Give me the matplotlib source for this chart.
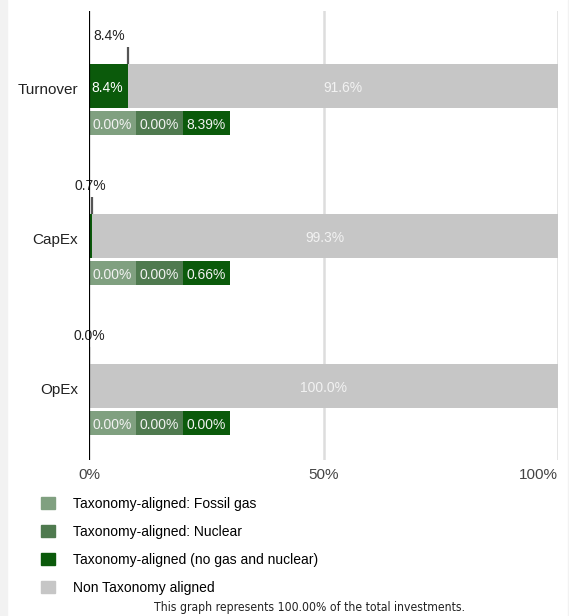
import matplotlib.pyplot as plt
from matplotlib.patches import Patch, Rectangle

plt.rcParams['font.family'] = ['Liberation Sans', 'DejaVu Sans']

# data
categories = ["Turnover", "CapEx", "OpEx"]
aligned_total = [8.4, 0.7, 0.0]
non_aligned = [91.6, 99.3, 100.0]
fossil_gas = [0.00, 0.00, 0.00]
nuclear = [0.00, 0.00, 0.00]
no_gas_nuclear = [8.39, 0.66, 0.00]

legend_labels = ["Taxonomy-aligned: Fossil gas", "Taxonomy-aligned: Nuclear",
                 "Taxonomy-aligned (no gas and nuclear)", "Non Taxonomy aligned"]
footer = "This graph represents 100.00% of the total investments."

C_GAS = "#80a080"
C_NUC = "#4f7a4f"
C_GREEN = "#0b5a0b"
C_NON = "#c6c6c6"

W, H = 569, 616
fig = plt.figure(figsize=(W / 100, H / 100), dpi=100)
fig.patch.set_facecolor("white")
fig.add_artist(Rectangle((0, 0), 7 / W, 1, transform=fig.transFigure,
                         color="#f2f2f2", zorder=0))
fig.add_artist(Rectangle((568 / W, 0), 1 / W, 1, transform=fig.transFigure,
                         color="#f2f2f2", zorder=0))

ax = fig.add_axes([89 / W, 1 - 460 / H, 469 / W, 449 / H])
ax.set_xlim(0, 100)
ax.set_ylim(2.493, -0.5)
for s in ax.spines.values():
    s.set_visible(False)
ax.axvline(0, color="black", lw=1.6, zorder=5)
for g in (50, 100):
    ax.axvline(g, color="#dddddd", lw=1.8, zorder=0)

main_h = 0.295
sub_off = 0.247
sub_h = 0.16
sub_w = 10
dy = 0.015  # text sits slightly low in the reference

for i, cat in enumerate(categories):
    a = aligned_total[i]
    n = non_aligned[i]
    ax.barh(i, a, height=main_h, color=C_GREEN, zorder=2)
    ax.barh(i, n, left=a, height=main_h, color=C_NON, zorder=2)
    if a > 5:
        ax.text(0.6, i + dy, f"{a:.1f}%", color="white", fontsize=10,
                ha="left", va="center", zorder=3)
    ax.text(a + n / 2, i + dy, f"{n:.1f}%", color="#f2f2f2", fontsize=10,
            ha="center", va="center", zorder=3)
    # marker + label above
    ax.plot([a, a], [i - 0.26, i - main_h / 2], color="#555555", lw=1.6,
            solid_capstyle="butt", zorder=4)
    ax.text(a / 2, i - 0.335, f"{a:.1f}%", color="#222222", fontsize=10,
            ha="center", va="center")
    # breakdown boxes
    vals = [fossil_gas[i], nuclear[i], no_gas_nuclear[i]]
    cols = [C_GAS, C_NUC, C_GREEN]
    for k, (v, c) in enumerate(zip(vals, cols)):
        ax.barh(i + sub_off, sub_w, left=k * sub_w, height=sub_h, color=c, zorder=2)
        ax.text(k * sub_w + sub_w / 2, i + sub_off + dy * 0.7, f"{v:.2f}%",
                color="#f2f2f2", fontsize=10, ha="center", va="center", zorder=3)

ax.set_yticks([i + dy for i in range(len(categories))])
ax.set_yticklabels(categories, fontsize=11, color="#222222")
ax.tick_params(axis="y", length=0, pad=8)
ax.set_xticks([0, 50, 100])
ax.set_xticklabels(["0%", "50%", "100%"], fontsize=11, color="#444444")
ax.tick_params(axis="x", length=0, pad=6)
ax.get_xticklabels()[-1].set_horizontalalignment("right")

handles = [Patch(color=c) for c in (C_GAS, C_NUC, C_GREEN, C_NON)]
fig.legend(handles, legend_labels, loc="upper left",
           bbox_to_anchor=(41 / W, 1 - 497 / H), frameon=False, fontsize=10,
           handlelength=1.0, handleheight=1.0, handletextpad=1.3,
           labelspacing=1.0, borderpad=0, borderaxespad=0)

fig.text(309 / W, 1 - 608 / H, footer, fontsize=8.7, ha="center", va="center",
         color="#222222", stretch="condensed",
         family=["Liberation Sans Narrow", "DejaVu Sans"])

fig.savefig("out.png", dpi=100)
